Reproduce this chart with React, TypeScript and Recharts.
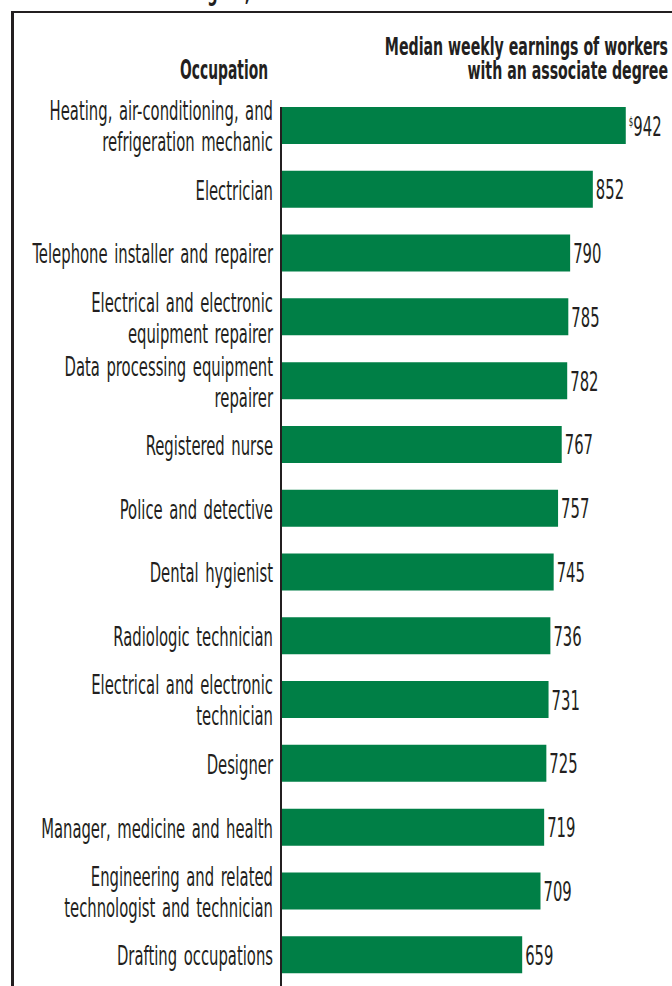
import React from 'react';
import { BarChart, Bar, XAxis, YAxis, LabelList } from 'recharts';

const occupations = [
  'Heating, air-conditioning, and\nrefrigeration mechanic',
  'Electrician',
  'Telephone installer and repairer',
  'Electrical and electronic\nequipment repairer',
  'Data processing equipment\nrepairer',
  'Registered nurse',
  'Police and detective',
  'Dental hygienist',
  'Radiologic technician',
  'Electrical and electronic\ntechnician',
  'Designer',
  'Manager, medicine and health',
  'Engineering and related\ntechnologist and technician',
  'Drafting occupations',
];

const earnings = [942, 852, 790, 785, 782, 767, 757, 745, 736, 731, 725, 719, 709, 659];

const headerOccupation = 'Occupation';
const headerEarnings = ['Median weekly earnings of workers', 'with an associate degree'];
const clippedTitle = 'degree,';

const data = occupations.map((occupation, i) => ({ occupation, earnings: earnings[i] }));

const INK = '#231f20';
const GREEN = '#007f46';
const FONT = '"DejaVu Sans Condensed", "DejaVu Sans", sans-serif';
const SX = 0.61;
const HX = 0.63;
const HFS = 25;

function OccTick(props: any) {
  const { x, y, payload } = props;
  const lines = String(payload.value).split('\n');
  const offs = lines.length === 1 ? [10] : [-5.5, 25.5];
  return (
    <g transform={`translate(${x},${y})`}>
      <text transform={`scale(${SX},1)`} textAnchor="end" fill={INK} fontSize={27} fontFamily={FONT} wordSpacing={3}>
        {lines.map((l, i) => (
          <tspan key={i} x={0} y={offs[i]}>{l}</tspan>
        ))}
      </text>
    </g>
  );
}

function ValueLabel(props: any) {
  const { x, y, width, height, value, index } = props;
  const tx = Number(x) + Number(width) + 3;
  const ty = Number(y) + Number(height) / 2 + 10;
  const first = index === 0 || (index === undefined && value === earnings[0]);
  return (
    <g transform={`translate(${tx},${ty})`}>
      <text transform={`scale(${SX},1)`} textAnchor="start" fill={INK} fontSize={27} fontFamily={FONT}>
        {first ? (
          <>
            <tspan fontSize={13} dy={-10}>$</tspan>
            <tspan dy={10}>{value}</tspan>
          </>
        ) : (
          <tspan>{value}</tspan>
        )}
      </text>
    </g>
  );
}

export default function App() {
  return (
    <div style={{ position: 'fixed', left: 0, top: 0, width: 672, height: 986, overflow: 'hidden', background: '#fff' }}>
      <div
        style={{
          position: 'absolute',
          left: 11,
          top: 11,
          width: 720,
          height: 1020,
          borderLeft: `3px solid ${INK}`,
          borderTop: `2px solid ${INK}`,
        }}
      />
      <svg width={672} height={100} style={{ position: 'absolute', left: 0, top: 0 }}>
        <g transform="translate(187,0)">
          <text transform="scale(0.6,1)" fill={INK} fontSize={27} fontWeight="bold" fontFamily={FONT}>
            {clippedTitle}
          </text>
        </g>
        <g transform="translate(268,79)">
          <text transform="scale(0.57,1)" textAnchor="end" fill={INK} fontSize={27} fontWeight="bold" fontFamily={FONT}>
            {headerOccupation}
          </text>
        </g>
        <g transform="translate(668,55)">
          <text transform={`scale(${HX},1)`} textAnchor="end" fill={INK} fontSize={HFS} fontWeight="bold" fontFamily={FONT}>
            {headerEarnings[0]}
          </text>
        </g>
        <g transform="translate(668,79)">
          <text transform={`scale(${HX},1)`} textAnchor="end" fill={INK} fontSize={HFS} fontWeight="bold" fontFamily={FONT}>
            {headerEarnings[1]}
          </text>
        </g>
      </svg>
      <div style={{ position: 'absolute', left: 0, top: 0 }}>
        <BarChart
          width={672}
          height={1000}
          data={data}
          layout="vertical"
          margin={{ top: 107, right: 25, bottom: 13, left: 0 }}
        >
          <XAxis type="number" domain={[0, 1000]} hide />
          <YAxis
            type="category"
            dataKey="occupation"
            width={281}
            axisLine={{ stroke: INK, strokeWidth: 2 }}
            tickLine={false}
            tickSize={6}
            tickMargin={2}
            padding={{ top: -13, bottom: 0 }}
            interval={0}
            tick={(p: any) => <OccTick {...p} />}
          />
          <Bar dataKey="earnings" fill={GREEN} barSize={37} isAnimationActive={false}>
            <LabelList dataKey="earnings" content={(p: any) => <ValueLabel {...p} />} />
          </Bar>
        </BarChart>
      </div>
    </div>
  );
}
